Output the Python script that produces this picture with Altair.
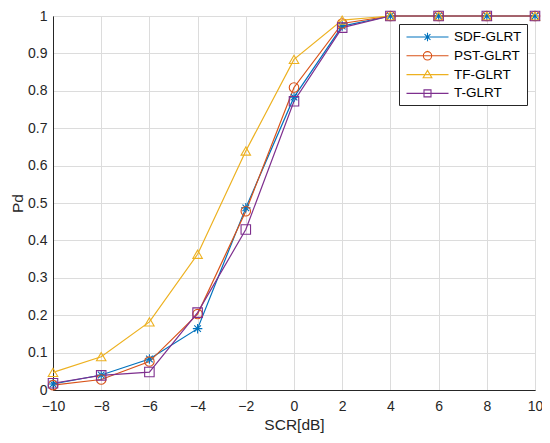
import altair as alt
import pandas as pd

scr = [-10, -8, -6, -4, -2, 0, 2, 4, 6, 8, 10]
sdf = [0.016, 0.040, 0.083, 0.164, 0.487, 0.783, 0.973, 1.0, 1.0, 1.0, 1.0]
pst = [0.013, 0.028, 0.076, 0.203, 0.478, 0.809, 0.980, 1.0, 1.0, 1.0, 1.0]
tf = [0.047, 0.089, 0.182, 0.363, 0.639, 0.884, 0.989, 1.0, 1.0, 1.0, 1.0]
tg = [0.018, 0.039, 0.048, 0.207, 0.429, 0.772, 0.969, 1.0, 1.0, 1.0, 1.0]

names = ["SDF-GLRT", "PST-GLRT", "TF-GLRT", "T-GLRT"]
colors = ["#0072BD", "#D95319", "#EDB120", "#7E2F8E"]
series = [sdf, pst, tf, tg]

star = "M-1,0L1,0M0,-1L0,1M-0.7,-0.7L0.7,0.7M-0.7,0.7L0.7,-0.7"
plot_shapes = [star, "circle", "triangle-up", "square"]

leg_shapes = [
    "M-3,0L3,0M0,-0.6L0,0.6M-0.42,-0.42L0.42,0.42M-0.42,0.42L0.42,-0.42",
    "M-3,0L3,0M-0.6,0A0.6,0.6 0 1,1 0.6,0A0.6,0.6 0 1,1 -0.6,0Z",
    "M-3,0L3,0M0,-0.6L0.62,0.45L-0.62,0.45Z",
    "M-3,0L3,0M-0.5,-0.5L0.5,-0.5L0.5,0.5L-0.5,0.5Z",
]

rows = []
for n, vals in zip(names, series):
    for x, y in zip(scr, vals):
        rows.append({"SCR": x, "Pd": y, "method": n})
df = pd.DataFrame(rows)

xenc = alt.X("SCR:Q", title="SCR[dB]",
             scale=alt.Scale(domain=[-10, 10], nice=False),
             axis=alt.Axis(values=list(range(-10, 11, 2)), format="d",
                           labelFlush=False, labelPadding=9, titlePadding=4))
yenc = alt.Y("Pd:Q", title="Pd",
             scale=alt.Scale(domain=[0, 1], nice=False),
             axis=alt.Axis(values=[i / 10 for i in range(11)], labelFlush=False,
                           labelPadding=6, titlePadding=2,
                           labelExpr="datum.value == 0 ? '0' : datum.value == 1 ? '1' : format(datum.value, '.1f')"))

base = alt.Chart(df)

lines = base.mark_line(strokeWidth=1.2).encode(
    x=xenc, y=yenc,
    color=alt.Color("method:N", scale=alt.Scale(domain=names, range=colors), legend=None),
    detail="method:N",
)

points = base.mark_point(filled=False, size=90, strokeWidth=1.1, opacity=1).encode(
    x=xenc, y=yenc,
    color=alt.Color("method:N", scale=alt.Scale(domain=names, range=colors), legend=None),
    shape=alt.Shape("method:N", scale=alt.Scale(domain=names, range=plot_shapes), legend=None),
)

legend_layer = base.transform_filter("false").mark_point(filled=False, strokeWidth=1.1, opacity=1).encode(
    x=xenc, y=yenc,
    color=alt.Color("method:N", scale=alt.Scale(domain=names, range=colors),
                    legend=alt.Legend(title=None)),
    shape=alt.Shape("method:N", scale=alt.Scale(domain=names, range=leg_shapes),
                    legend=alt.Legend(title=None)),
)

chart = alt.layer(lines, points, legend_layer).resolve_scale(
    color="independent", shape="independent"
).properties(
    width=482, height=374,
    autosize=alt.AutoSizeParams(type="none"),
    padding={"left": 45, "top": 8, "right": 7, "bottom": 45},
).configure_view(
    stroke="#262626", strokeWidth=1
).configure_axis(
    grid=True, gridColor="#dcdcdc", gridWidth=1,
    domainColor="#262626", tickColor="#262626", ticks=False,
    labelColor="#262626", labelFont="Liberation Sans", labelFontSize=14,
    titleColor="#262626", titleFont="Liberation Sans", titleFontSize=15.5,
    titleFontWeight="normal",
).configure_legend(
    orient="top-right", offset=8,
    fillColor="white", strokeColor="#262626", padding=5,
    labelFont="Liberation Sans", labelFontSize=13.5, labelColor="#000000",
    symbolSize=196, symbolStrokeWidth=1.1,
    symbolOffset=15.5, labelOffset=18.5, rowPadding=3.8,
)

chart.save("out.html", embed_options={"renderer": "svg", "actions": False})
